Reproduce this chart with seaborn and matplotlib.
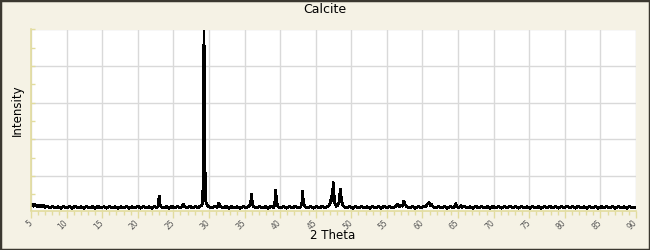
import matplotlib
matplotlib.use("Agg")
import matplotlib.pyplot as plt
import seaborn as sns
import pandas as pd
from matplotlib.patches import Rectangle
from matplotlib.ticker import MultipleLocator

title = "Calcite"
x_label = "2 Theta"
y_label = "Intensity"
x_ticks = [5, 10, 15, 20, 25, 30, 35, 40, 45, 50, 55, 60, 65, 70, 75, 80, 85, 90]

two_theta = [
    5.0, 5.2, 5.4, 5.6, 5.8, 6.0, 6.2, 6.4, 6.6, 6.8,
    7.0, 7.3, 7.6, 8.0, 8.4, 8.8, 9.2, 9.6, 10.0, 10.4,
    10.8, 11.2, 11.6, 12.0, 12.4, 12.8, 13.2, 13.6, 14.0, 14.4,
    14.8, 15.2, 15.6, 16.0, 16.4, 16.8, 17.2, 17.6, 18.0, 18.4,
    18.8, 19.2, 19.6, 20.0, 20.4, 20.8, 21.2, 21.6, 22.0, 22.4,
    22.7, 22.9, 23.0, 23.1, 23.25, 23.6, 24.0, 24.4, 24.8, 25.2,
    25.6, 26.0, 26.25, 26.4, 26.55, 26.9, 27.3, 27.7, 28.1, 28.5,
    28.8, 29.0, 29.12, 29.22, 29.3, 29.4, 29.48, 29.58, 29.75, 30.0,
    30.4, 30.8, 31.2, 31.4, 31.6, 32.0, 32.4, 32.8, 33.2, 33.6,
    34.0, 34.4, 34.8, 35.2, 35.6, 35.85, 35.98, 36.1, 36.3, 36.7,
    37.1, 37.5, 37.9, 38.3, 38.7, 39.1, 39.25, 39.38, 39.5, 39.7,
    40.1, 40.5, 40.9, 41.3, 41.7, 42.1, 42.5, 42.9, 43.05, 43.15,
    43.28, 43.5, 43.9, 44.3, 44.7, 45.1, 45.5, 45.9, 46.3, 46.7,
    46.95, 47.1, 47.25, 47.35, 47.45, 47.55, 47.7, 47.9, 48.1, 48.3,
    48.45, 48.58, 48.75, 49.0, 49.4, 49.8, 50.2, 50.6, 51.0, 51.4,
    51.8, 52.2, 52.6, 53.0, 53.4, 53.8, 54.2, 54.6, 55.0, 55.4,
    55.8, 56.2, 56.5, 56.7, 57.0, 57.2, 57.38, 57.55, 57.8, 58.2,
    58.6, 59.0, 59.4, 59.8, 60.2, 60.5, 60.7, 60.9, 61.1, 61.25,
    61.5, 61.9, 62.3, 62.7, 63.1, 63.5, 63.9, 64.3, 64.5, 64.65,
    64.8, 65.1, 65.4, 65.6, 65.9, 66.3, 66.7, 67.1, 67.5, 67.9,
    68.3, 68.7, 69.1, 69.5, 69.9, 70.3, 70.7, 71.1, 71.5, 71.9,
    72.3, 72.7, 73.1, 73.5, 73.9, 74.3, 74.7, 75.1, 75.5, 75.9,
    76.3, 76.7, 77.1, 77.5, 77.9, 78.3, 78.7, 79.1, 79.5, 79.9,
    80.3, 80.7, 81.1, 81.5, 81.9, 82.3, 82.7, 83.1, 83.5, 83.9,
    84.3, 84.7, 85.1, 85.5, 85.9, 86.3, 86.7, 87.1, 87.5, 87.9,
    88.3, 88.7, 89.1, 89.5, 90.0,
]

intensity = [
    3.8, 4.8, 3.6, 4.4, 3.5, 4.3, 3.4, 4.2, 3.3, 4.0,
    3.0, 3.7, 2.6, 3.5, 2.6, 3.4, 2.5, 3.5, 2.6, 3.4,
    2.5, 3.6, 2.6, 3.3, 2.5, 3.5, 2.6, 3.4, 2.5, 3.5,
    2.6, 3.3, 2.5, 3.6, 2.6, 3.4, 2.5, 3.3, 2.6, 3.5,
    2.5, 3.4, 2.6, 3.7, 2.5, 3.4, 2.6, 3.3, 2.5, 3.5,
    2.7, 4.0, 9.2, 5.0, 3.4, 2.6, 3.4, 2.5, 3.5, 2.6,
    3.4, 2.6, 3.5, 4.8, 3.4, 2.6, 3.6, 2.6, 3.5, 2.7,
    3.8, 4.0, 6.0, 25.5, 98.8, 60.0, 10.0, 6.0, 4.0, 3.4,
    2.6, 3.5, 3.0, 5.3, 3.4, 2.6, 3.5, 2.5, 3.4, 2.6,
    3.3, 2.5, 3.5, 2.6, 3.6, 4.6, 10.3, 5.2, 3.2, 2.6,
    3.5, 2.6, 3.4, 2.5, 3.5, 3.0, 5.0, 12.3, 6.0, 3.3,
    2.6, 3.6, 2.5, 3.4, 2.6, 3.5, 2.6, 3.3, 5.0, 11.9,
    5.5, 3.2, 2.6, 3.5, 2.5, 3.4, 2.6, 3.5, 2.6, 3.4,
    4.2, 6.5, 9.0, 6.5, 16.6, 11.0, 5.2, 3.5, 4.2, 6.0,
    13.0, 8.5, 4.5, 3.2, 2.6, 3.5, 2.5, 3.4, 2.6, 3.5,
    2.6, 3.3, 2.5, 3.5, 2.6, 3.4, 2.5, 3.5, 2.6, 3.4,
    2.6, 3.3, 4.8, 3.3, 3.9, 3.6, 6.4, 4.6, 3.2, 2.6,
    3.5, 2.5, 3.4, 2.6, 3.6, 3.4, 4.8, 5.5, 4.0, 4.6,
    3.3, 2.6, 3.5, 2.6, 3.4, 2.5, 3.5, 2.6, 3.6, 5.0,
    3.4, 2.8, 3.9, 3.0, 3.5, 2.6, 3.4, 2.5, 3.5, 2.6,
    3.6, 2.6, 3.4, 2.5, 3.5, 2.6, 3.4, 2.5, 3.5, 2.6,
    3.7, 2.6, 3.4, 2.5, 3.6, 2.6, 3.4, 2.5, 3.5, 2.6,
    3.3, 2.5, 3.4, 2.6, 3.5, 2.6, 3.4, 2.5, 3.5, 2.6,
    3.6, 2.6, 3.4, 2.5, 3.7, 2.6, 3.4, 2.5, 3.5, 2.6,
    3.6, 2.5, 3.4, 2.6, 3.5, 2.6, 3.4, 2.5, 3.5, 2.6,
    3.4, 2.5, 3.5, 2.6, 3.2,
]

df = pd.DataFrame({"two_theta": two_theta, "intensity": intensity})

sns.set_theme(style="white")
plt.rcParams["font.family"] = ["DejaVu Sans"]

bg = "#f5f2e5"
axis_col = "#e2dc9e"
fig = plt.figure(figsize=(6.5, 2.5), dpi=100, facecolor=bg)
ax = fig.add_axes([31 / 650, 1 - 210.5 / 250, 605 / 650, (210.5 - 29.5) / 250])
ax.set_facecolor("white")

sns.lineplot(data=df, x="two_theta", y="intensity", ax=ax, color="black",
             linewidth=1.3, sort=False, estimator=None, antialiased=False)

ax.set_xlim(5, 90)
ax.set_ylim(1.25, 100)
ax.yaxis.set_major_locator(MultipleLocator(20))
ax.yaxis.set_minor_locator(MultipleLocator(10))
ax.set_xticks(x_ticks)
ax.xaxis.set_minor_locator(MultipleLocator(1))
ax.set_xticklabels([str(t) for t in x_ticks], rotation=45, ha="right", va="center",
                   rotation_mode="anchor", fontsize=5.5, color="#555555")
ax.set_yticklabels([])
ax.grid(True, which="major", color="#d9d9d9", linewidth=1.0)
ax.set_axisbelow(True)

for s in ["top", "right"]:
    ax.spines[s].set_visible(False)
for s in ["left", "bottom"]:
    ax.spines[s].set_color(axis_col)
    ax.spines[s].set_linewidth(1.2)

ax.tick_params(axis="x", which="major", direction="out", length=5, width=1,
               color=axis_col, pad=3, bottom=True)
ax.tick_params(axis="x", which="minor", direction="out", length=3, width=1,
               color=axis_col, bottom=True)
ax.tick_params(axis="y", which="both", direction="in", length=3, width=1,
               color=axis_col, left=True, labelleft=False)

ax.set_xlabel(x_label, fontsize=8.5, color="black")
ax.set_ylabel(y_label, fontsize=8.5, color="black")
ax.xaxis.set_label_coords((333 - 31) / 605, 1 - (236 - 29.5) / 181)
ax.yaxis.set_label_coords((17 - 31) / 605, (210.5 - 110) / 181)
ax.xaxis.label.set_va("center")
ax.yaxis.label.set_va("center")

fig.text(325 / 650, 1 - 9.5 / 250, title, ha="center", va="center", fontsize=9, color="black")

fig.patches.append(Rectangle((0, 0), 1, 1, transform=fig.transFigure, fill=False,
                             edgecolor="#3b3830", linewidth=2.5, zorder=10))

fig.savefig("out.png", dpi=100, facecolor=bg)
